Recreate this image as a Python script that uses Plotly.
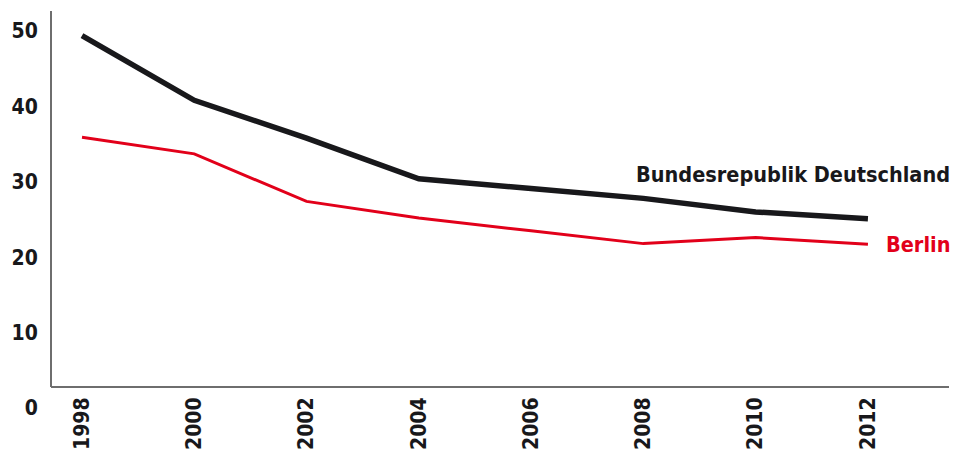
import plotly.graph_objects as go

years = [1998, 2000, 2002, 2004, 2006, 2008, 2010, 2012]
deutschland = [49.4, 40.8, 35.8, 30.4, 29.1, 27.8, 26.0, 25.1]
berlin = [35.9, 33.7, 27.4, 25.2, 23.5, 21.8, 22.6, 21.7]
y_ticks = [0, 10, 20, 30, 40, 50]
x_ticks = [1998, 2000, 2002, 2004, 2006, 2008, 2010, 2012]

BLACK = "#18181b"
RED = "#e2001a"
AXIS = "#6e6e6e"
FONT = "DejaVu Sans Condensed, Liberation Sans, sans-serif"

fig = go.Figure()
fig.add_trace(go.Scatter(x=years, y=deutschland, mode="lines",
                         line=dict(color=BLACK, width=5.5), hoverinfo="skip"))
fig.add_trace(go.Scatter(x=years, y=berlin, mode="lines",
                         line=dict(color=RED, width=3), hoverinfo="skip"))

axis_pos = 21 / 397  # x-axis sits slightly above the y=0 level

fig.update_layout(
    template="none",
    width=958, height=452,
    margin=dict(l=51, r=9, t=11, b=44, autoexpand=False),
    paper_bgcolor="white", plot_bgcolor="white",
    showlegend=False,
    font=dict(family=FONT, size=21, color=BLACK),
    xaxis=dict(range=[1997.448, 2013.444], tickvals=x_ticks,
               ticktext=[str(v) for v in x_ticks], tickangle=-90,
               showgrid=False, zeroline=False, showline=True,
               linecolor=AXIS, linewidth=2, automargin=False,
               ticks="outside", ticklen=1, tickcolor="rgba(0,0,0,0)",
               anchor="free", position=axis_pos,
               tickfont=dict(family=FONT, size=21, color=BLACK, weight="bold")),
    yaxis=dict(range=[0, 52.65], tickvals=y_ticks,
               ticktext=[str(v) for v in y_ticks],
               showgrid=False, zeroline=False, showline=False, automargin=False,
               ticks="outside", ticklen=8, tickcolor="rgba(0,0,0,0)",
               tickfont=dict(family=FONT, size=21, color=BLACK, weight="bold")),
)

fig.add_shape(type="line", xref="paper", yref="paper", x0=0, x1=0,
              y0=axis_pos, y1=1, line=dict(color=AXIS, width=2))

fig.add_annotation(x=1, xref="paper", y=31.0, yref="y", xanchor="right",
                   yanchor="middle", showarrow=False, xshift=3,
                   text="Bundesrepublik Deutschland",
                   font=dict(family=FONT, size=21.5, color=BLACK, weight="bold"))
fig.add_annotation(x=1, xref="paper", y=21.7, yref="y", xanchor="right",
                   yanchor="middle", showarrow=False, xshift=3,
                   text="Berlin",
                   font=dict(family=FONT, size=21.5, color=RED, weight="bold"))

fig.write_html("out.html")
